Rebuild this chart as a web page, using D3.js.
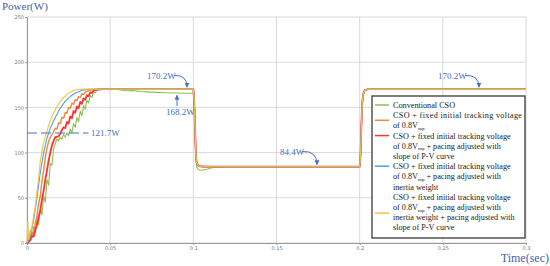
<!DOCTYPE html>
<html lang="en">
<head>
<meta charset="UTF-8">
<title>Power vs Time</title>
<script src="https://cdnjs.cloudflare.com/ajax/libs/d3/7.8.5/d3.min.js"></script>
<style>
  body { margin: 0; background: #fff; }
  .grid line { stroke: #d9d9d9; stroke-width: 1; }
  .tick text { font-family: "DejaVu Sans", sans-serif; font-size: 5px; fill: #777; }
</style>
</head>
<body>
<div id="chart"></div>
<script>
const SERIF = "'Liberation Serif', 'DejaVu Serif', serif";

// x and y ticks
const xTicks = [0, 0.05, 0.1, 0.15, 0.2, 0.25, 0.3];
const yTicks = [0, 50, 100, 150, 200, 250];

// rise phase, [time, power]
const conventional = [[0,0],[0.001,3],[0.002,14],[0.003,6],[0.004,18],[0.005,11],[0.006,26],[0.007,20],[0.008,38],[0.009,31],[0.010,52],[0.011,45],[0.012,70],[0.013,64],[0.014,88],[0.015,86],[0.016,104],[0.017,110],[0.018,115],[0.019,113],[0.020,117],[0.021,115],[0.022,120],[0.023,117],[0.024,122],[0.025,119],[0.026,126],[0.027,122],[0.028,132],[0.029,128],[0.030,139],[0.031,134],[0.032,146],[0.033,141],[0.034,152],[0.035,148],[0.036,158],[0.037,155],[0.038,163],[0.039,161],[0.040,167],[0.041,166],[0.042,169],[0.044,169.5],[0.047,170],[0.050,169.6],[0.053,170],[0.056,169.2],[0.060,168.5],[0.064,168.6],[0.068,167.6],[0.072,167.2],[0.078,166.6],[0.084,166.2],[0.090,166],[0.095,165.7],[0.1,165.7]];
const fixedInit = [[0,0],[0.002,5],[0.003,12],[0.004,10],[0.005,22],[0.006,30],[0.007,44],[0.008,52],[0.009,69],[0.010,80],[0.011,95],[0.012,105],[0.013,112],[0.014,117],[0.016,123],[0.017,127],[0.018,126],[0.019,133],[0.020,132],[0.021,139],[0.022,138],[0.023,144.5],[0.024,143.5],[0.025,150],[0.026,149],[0.027,154.5],[0.028,153.5],[0.029,158.5],[0.030,157.5],[0.031,162],[0.032,161],[0.033,165],[0.034,164.3],[0.035,167],[0.037,168.6],[0.040,169.6],[0.043,170.2],[0.1,170.2]];
const fixedSlope = [[0,0],[0.002,3],[0.003,8],[0.004,7],[0.005,14],[0.006,20],[0.007,29],[0.008,36],[0.009,48],[0.010,58],[0.011,70],[0.012,80],[0.013,91],[0.014,100],[0.015,108],[0.016,113],[0.017,117],[0.018,117.5],[0.019,118],[0.020,121],[0.021,125],[0.022,128],[0.023,127],[0.024,134],[0.025,132],[0.026,140],[0.027,138],[0.028,146],[0.029,144],[0.030,151],[0.031,149],[0.032,156],[0.033,154],[0.034,160],[0.035,158.5],[0.036,163.5],[0.037,162.5],[0.038,166.5],[0.039,166],[0.040,168.5],[0.042,169.6],[0.045,170.2],[0.1,170.2]];
const fixedInertia = [[0,0],[0.002,8],[0.004,25],[0.006,50],[0.008,78],[0.010,100],[0.012,116],[0.014,127],[0.017,139],[0.020,149],[0.023,157],[0.026,162],[0.029,166],[0.033,168.8],[0.037,170],[0.040,170.2],[0.1,170.2]];
const fixedInertiaSlope = [[0,0],[0.0005,24],[0.001,4],[0.002,11],[0.003,18],[0.004,30],[0.005,40],[0.006,57],[0.007,72],[0.008,90],[0.009,101],[0.010,111],[0.011,118],[0.013,130],[0.015,140],[0.018,151],[0.021,159],[0.024,164.5],[0.027,168],[0.030,169.8],[0.034,170.2],[0.1,170.2]];

// load steps at 0.1 s and 0.2 s
const stepTail = [[0.1005,160],[0.101,128],[0.1015,100],[0.102,89],[0.103,85.5],[0.105,84.6],[0.11,84.4],[0.2,84.4],[0.2005,96],[0.201,128],[0.2015,153],[0.202,164],[0.203,168.8],[0.205,170.2],[0.3,170.2]];
const stepTailConv = [[0.1005,150],[0.101,118],[0.1015,94],[0.102,84],[0.103,81],[0.105,80.4],[0.108,81.6],[0.112,83.6],[0.12,84.4],[0.2,84.4],[0.2005,96],[0.201,128],[0.2015,153],[0.202,164],[0.203,168.8],[0.205,170.2],[0.3,170.2]];

const seriesNames = [
  ["Conventional CSO"],
  ["CSO + fixed initial tracking voltage", "of 0.8V|mp"],
  ["CSO + fixed initial tracking voltage", "of 0.8V|mp| + pacing adjusted with", "slope of P-V curve"],
  ["CSO + fixed initial tracking voltage", "of 0.8V|mp| + pacing adjusted with", "inertia weight"],
  ["CSO + fixed initial tracking voltage", "of 0.8V|mp| + pacing adjusted with", "inertia weight + pacing adjusted with", "slope of P-V curve"]
];
const seriesColors = ["#8cc04e", "#ec8a3c", "#fa3434", "#4aa3e6", "#f7c23e"];

const width = 550, height = 266;
const margin = {top: 17, right: 24, bottom: 23, left: 27};

const svg = d3.select("#chart").append("svg")
  .attr("width", width).attr("height", height);

const x = d3.scaleLinear().domain([0, 0.3]).range([margin.left, width - margin.right]);
const y = d3.scaleLinear().domain([0, 250]).range([height - margin.bottom, margin.top]);

// grid
svg.append("g").attr("class", "grid")
  .selectAll("line").data(xTicks).enter().append("line")
  .attr("x1", d => x(d)).attr("x2", d => x(d))
  .attr("y1", y(0)).attr("y2", y(250));
svg.append("g").attr("class", "grid")
  .selectAll("line").data(yTicks).enter().append("line")
  .attr("x1", x(0)).attr("x2", x(0.3))
  .attr("y1", d => y(d)).attr("y2", d => y(d));

// axes
const xAxis = svg.append("g")
  .attr("transform", `translate(0,${y(0)})`)
  .call(d3.axisBottom(x).tickValues(xTicks).tickSize(2).tickPadding(1).tickFormat(d3.format("")));
const yAxis = svg.append("g")
  .attr("transform", `translate(${x(0)},0)`)
  .call(d3.axisLeft(y).tickValues(yTicks).tickSize(2).tickPadding(1));
[xAxis, yAxis].forEach(a => {
  a.select(".domain").attr("stroke", "#999");
  a.selectAll(".tick line").attr("stroke", "#999");
});

// curves
const line = d3.line().x(d => x(d[0])).y(d => y(d[1]));
const allSeries = [
  conventional.concat(stepTailConv),
  fixedInit.concat(stepTail),
  fixedSlope.concat(stepTail),
  fixedInertia.concat(stepTail),
  fixedInertiaSlope.concat(stepTail)
];
const strokeW = [1.1, 1.4, 1.8, 1.1, 1.1];
allSeries.forEach((s, i) => {
  svg.append("path").datum(s)
    .attr("fill", "none")
    .attr("stroke", seriesColors[i])
    .attr("stroke-width", strokeW[i])
    .attr("stroke-linejoin", "round")
    .attr("d", line);
});

// annotations
const noteColor = "#4a6fc8";
const note = (sel) => sel.attr("font-family", SERIF).attr("font-size", 9).attr("fill", noteColor);
const defs = svg.append("defs");
defs.append("marker").attr("id", "ah")
  .attr("viewBox", "0 0 10 10").attr("refX", 9).attr("refY", 5)
  .attr("markerWidth", 5).attr("markerHeight", 5).attr("orient", "auto")
  .append("path").attr("d", "M0,0 L10,5 L0,10 z").attr("fill", noteColor);

svg.append("line")
  .attr("x1", x(0)).attr("x2", x(0.037))
  .attr("y1", y(121.7)).attr("y2", y(121.7))
  .attr("stroke", noteColor).attr("stroke-width", 1.2)
  .attr("stroke-dasharray", "10,4");
svg.append("text").call(note).attr("x", x(0.0385)).attr("y", y(121.7) + 3.5).text("121.7W");

function curvedNote(label, tx, ty, ex, ey) {
  svg.append("text").call(note).attr("x", tx).attr("y", ty).text(label);
  const sx = tx + (label.length > 5 ? 27 : 22), sy = ty - 3.5;
  svg.append("path")
    .attr("d", `M${sx},${sy} Q${ex},${sy - 1} ${ex},${ey}`)
    .attr("fill", "none").attr("stroke", noteColor).attr("stroke-width", 1)
    .attr("marker-end", "url(#ah)");
}
curvedNote("170.2W", 147, 79, 187, y(170.2) - 2);
curvedNote("170.2W", 438, 79, 479, y(170.2) - 2);
curvedNote("84.4W", 280, 155, 317, y(84.4) - 2);

svg.append("text").call(note).attr("x", 166).attr("y", 115).text("168.2W");
svg.append("path")
  .attr("d", `M177,106 L177,${y(165.7) + 2}`)
  .attr("stroke", noteColor).attr("stroke-width", 1)
  .attr("marker-end", "url(#ah)");

// axis titles
svg.append("text").attr("font-family", SERIF)
  .attr("x", 2).attr("y", 10).attr("font-size", 11).attr("fill", "#3f5fae")
  .text("Power(W)");
svg.append("text").attr("font-family", SERIF)
  .attr("x", 549).attr("y", 262).attr("text-anchor", "end")
  .attr("font-size", 12).attr("fill", "#3f5fae")
  .text("Time(sec)");

// legend
const lg = svg.append("g");
lg.append("rect")
  .attr("x", 372).attr("y", 96).attr("width", 153).attr("height", 142)
  .attr("fill", "#fff").attr("stroke", "#3a3a3a").attr("stroke-width", 1.3);
const lineH = 10.2;
const sampleRow = [0, 0.5, 0, 0, 1.6];
let row = 0;
seriesNames.forEach((lines, i) => {
  const top = 108 + row * lineH;
  const sy = top + sampleRow[i] * lineH - 3;
  lg.append("line")
    .attr("x1", 375).attr("x2", 389).attr("y1", sy).attr("y2", sy)
    .attr("stroke", seriesColors[i]).attr("stroke-width", 1.5);
  lines.forEach((txt, j) => {
    const t = lg.append("text").attr("font-family", SERIF)
      .attr("x", 393).attr("y", top + j * lineH)
      .attr("font-size", 8.2).attr("fill", "#222");
    const parts = txt.split("|");
    parts.forEach((p, k) => {
      const ts = t.append("tspan").text(p);
      if (k === 1) ts.attr("font-size", 5).attr("dy", 1.5);
      if (k === 2) ts.attr("dy", -1.5);
    });
    if (i === 1 && j === 0) t.attr("textLength", 129).attr("lengthAdjust", "spacing");
  });
  row += lines.length;
});
</script>
</body>
</html>
